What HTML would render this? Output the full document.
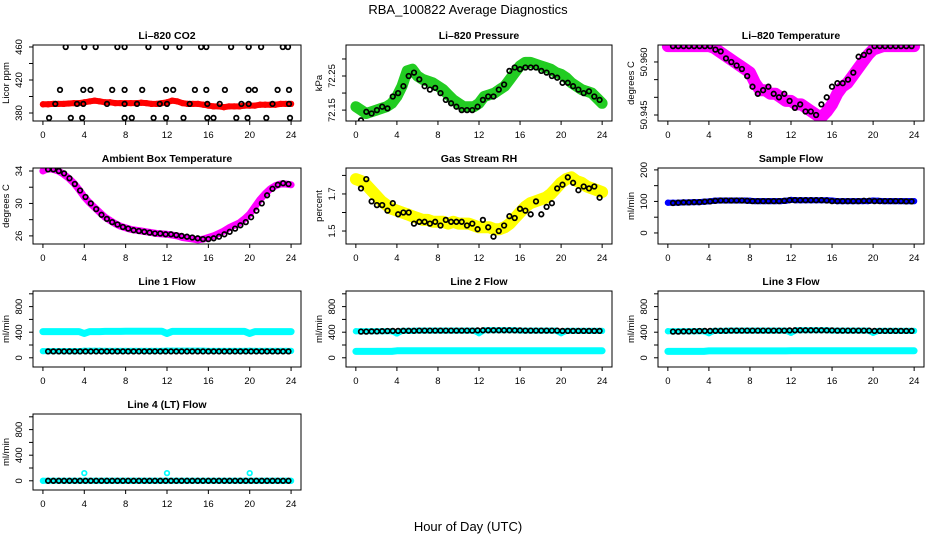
<!DOCTYPE html>
<html><head><meta charset="utf-8"><style>
html,body{margin:0;padding:0;background:#fff;}
svg{display:block;font-family:"Liberation Sans",Arial,sans-serif;}
</style></head><body>
<svg id="chart" width="936" height="540" viewBox="0 0 936 540">
<text x="468" y="14" text-anchor="middle" font-size="13">RBA_100822  Average Diagnostics</text>
<text x="468" y="531" text-anchor="middle" font-size="13">Hour of Day (UTC)</text>
</svg>
<script>
// ---- data arrays (hours spread evenly over 0..24 for colored; 0.5..23.75 for black) ----
const xTicks = [0,4,8,12,16,20,24];
const co2Red = [390.5,390.5,391,391,391,391.5,392,392,393,394,395,394,393,393,392,392,392,392,392,392.5,392,391,391,392,393,395,394,392,391,391,391,390,389,388,388,387,388,388,388,389,389,389,390,390,390,390,391,391,391];
const co2BlackHours = [2.2,4.0,5.1,7.2,7.9,10.2,11.9,13.2,15.3,15.8,18.2,19.9,21.1,23.2,23.7, 1.65,3.9,4.6,6.7,7.9,9.6,11.9,12.6,14.7,15.8,17.6,19.9,20.5,22.7,23.8, 1.2,3.3,3.9,6.2,7.9,9.1,11.3,12.0,14.2,15.9,17.1,19.2,19.9,22.2,23.8, 0.6,2.7,3.8,7.9,8.6,10.7,11.9,13.6,15.9,16.5,18.7,19.8,21.6,23.9];
const co2BlackVals = [460,460,460,460,460,460,460,460,460,460,460,460,460,460,460, 408,408,408,408,408,408,408,408,408,408,408,408,408,408,408, 391,391,391,391,391,391,391,391,391,391,391,391,391,391,391, 374,374,374,374,374,374,374,374,374,374,374,374,374,374];
const pressGreen = [72.16,72.15,72.14,72.145,72.15,72.155,72.16,72.17,72.19,72.22,72.265,72.27,72.25,72.24,72.235,72.23,72.22,72.21,72.195,72.18,72.17,72.16,72.16,72.16,72.17,72.19,72.195,72.20,72.21,72.22,72.24,72.26,72.28,72.29,72.29,72.285,72.28,72.275,72.27,72.26,72.255,72.245,72.23,72.22,72.21,72.205,72.20,72.185,72.17];
const pressBlack = [72.12,72.145,72.14,72.15,72.16,72.155,72.19,72.20,72.22,72.25,72.26,72.24,72.22,72.21,72.215,72.20,72.18,72.17,72.16,72.15,72.15,72.15,72.16,72.18,72.19,72.19,72.21,72.225,72.265,72.275,72.27,72.275,72.275,72.275,72.265,72.26,72.25,72.245,72.23,72.23,72.22,72.21,72.20,72.205,72.19,72.18];
const tempPink = [50.9645,50.9645,50.9645,50.9645,50.9645,50.9645,50.9645,50.9645,50.9645,50.964,50.963,50.962,50.961,50.960,50.959,50.958,50.957,50.954,50.952,50.952,50.951,50.951,50.950,50.949,50.949,50.948,50.948,50.947,50.946,50.945,50.9445,50.946,50.948,50.951,50.953,50.954,50.956,50.958,50.960,50.962,50.9635,50.964,50.9645,50.9645,50.9645,50.9645,50.9645,50.9645,50.9645];
const tempBlack = [50.9645,50.9645,50.9645,50.9645,50.9645,50.9645,50.9645,50.9645,50.9635,50.963,50.961,50.960,50.959,50.958,50.956,50.953,50.951,50.952,50.953,50.951,50.950,50.951,50.949,50.947,50.948,50.946,50.946,50.945,50.948,50.950,50.953,50.954,50.954,50.955,50.957,50.9615,50.962,50.963,50.9645,50.9645,50.9645,50.9645,50.9645,50.9645,50.9645,50.9645];
const ambPink = [34.0,34.3,34.2,34.0,33.6,33.1,32.5,31.7,30.8,30.1,29.5,28.9,28.3,27.9,27.5,27.2,27.0,26.8,26.7,26.6,26.5,26.4,26.3,26.25,26.2,26.1,26.0,25.8,25.7,25.6,25.5,25.6,25.8,26.0,26.3,26.6,27.0,27.3,27.6,28.1,28.7,29.6,30.5,31.2,31.8,32.2,32.4,32.4,32.3];
const ambBlack = [34.2,34.2,34.0,33.7,33.1,32.4,31.6,30.8,30.0,29.3,28.6,28.1,27.7,27.4,27.1,26.9,26.7,26.6,26.5,26.4,26.3,26.3,26.2,26.2,26.1,26.0,25.9,25.8,25.7,25.6,25.6,25.7,25.9,26.2,26.5,26.9,27.3,27.7,28.3,29.1,30.0,31.0,31.8,32.3,32.5,32.4];
const rhYellow = [1.78,1.77,1.75,1.72,1.69,1.66,1.64,1.62,1.61,1.60,1.59,1.58,1.57,1.56,1.56,1.55,1.55,1.55,1.54,1.55,1.54,1.54,1.54,1.53,1.52,1.52,1.52,1.51,1.51,1.52,1.54,1.57,1.60,1.63,1.65,1.66,1.67,1.68,1.70,1.73,1.76,1.78,1.79,1.77,1.76,1.74,1.73,1.72,1.71];
const rhBlack = [1.73,1.78,1.66,1.64,1.64,1.61,1.65,1.59,1.60,1.60,1.54,1.55,1.55,1.54,1.55,1.53,1.56,1.55,1.55,1.55,1.53,1.54,1.51,1.56,1.52,1.47,1.50,1.53,1.58,1.57,1.62,1.61,1.59,1.66,1.59,1.63,1.65,1.73,1.75,1.79,1.76,1.72,1.74,1.73,1.74,1.68];
const sampleBlue = [96,96,96,97,97,98,98,99,100,102,103,103,103,103,103,103,102,101,101,101,101,101,101,102,105,104,104,104,104,104,104,104,103,101,101,101,101,101,101,101,103,102,101,101,101,101,101,101,101];
const sampleBlack = [95,96,97,97,98,98,99,100,102,103,103,103,103,103,102,101,101,101,101,101,101,102,104,104,104,104,104,104,104,103,101,101,101,101,101,101,102,102,101,101,101,101,101,101,100,100];
const line1CyanHigh = [410,410,410,410,410,410,410,410,380,410,410,410,412,412,412,412,415,415,415,415,415,415,415,415,380,412,412,412,412,412,412,412,412,412,412,412,412,412,412,412,380,410,410,410,410,410,410,410,410];
const line1CyanLow = [105,105,105,105,105,105,105,105,110,110,110,110,108,108,108,108,108,108,108,108,108,108,108,108,112,112,112,112,112,112,112,112,108,108,108,108,108,108,108,108,110,108,108,108,108,108,108,108,108];
const line1Black = [100,100,100,100,100,100,100,100,100,100,100,100,100,100,100,100,100,100,100,100,100,100,100,100,100,100,100,100,100,100,100,100,100,100,100,100,100,100,100,100,100,100,100,100,100,100];
const line2CyanHigh = [415,415,415,415,415,415,415,415,380,420,420,420,425,425,425,425,425,425,425,425,425,425,425,425,385,430,430,430,430,430,430,430,425,425,425,425,425,425,425,425,385,420,420,420,420,420,420,420,420];
const line2CyanLow = [100,100,100,100,100,100,100,100,110,110,110,110,110,110,110,110,110,110,110,110,110,110,110,110,110,110,110,110,110,110,110,110,110,110,110,110,110,110,110,110,110,110,110,110,110,110,110,110,110];
const line2Black = [410,410,412,412,415,418,420,420,422,422,422,425,425,425,425,425,425,425,425,425,425,425,428,430,430,430,430,430,430,428,428,425,425,425,425,425,425,425,420,420,420,420,420,420,420,420];
const line3CyanHigh = [415,415,415,415,415,415,415,415,385,420,420,420,425,425,425,425,425,425,425,425,425,425,425,425,390,430,430,430,430,430,430,430,425,425,425,425,425,425,425,425,390,420,420,420,420,420,420,420,420];
const line3CyanLow = [100,100,100,100,100,100,100,100,108,108,108,108,108,108,108,108,108,108,108,108,108,108,108,108,110,110,110,110,110,110,110,110,110,110,110,110,110,110,110,110,110,110,110,110,110,110,110,110,110];
const line3Black = [410,410,412,412,415,418,420,420,422,422,422,425,425,425,425,425,425,425,425,425,425,425,428,430,430,430,430,430,430,428,428,425,425,425,425,425,425,425,420,420,420,420,420,420,420,420];
const line4Cyan = [0,0,0,0,0,0,0,0,0,0,0,0,0,0,0,0,0,0,0,0,0,0,0,0,0,0,0,0,0,0,0,0,0,0,0,0,0,0,0,0,0,0,0,0,0,0,0,0,0];
const line4CyanOutHours = [4,12,20];
const line4CyanOutVals = [120,120,120];
const line4Black = [0,0,0,0,0,0,0,0,0,0,0,0,0,0,0,0,0,0,0,0,0,0,0,0,0,0,0,0,0,0,0,0,0,0,0,0,0,0,0,0,0,0,0,0,0,0];

const NS = "http://www.w3.org/2000/svg";
const svg = document.getElementById('chart');
const colLeft = [33, 346, 658], colRight = [301, 612, 924];
const rowTop = [45, 168, 291, 414], rowH = 76;
function mk(tag, attrs, parent){ const e=document.createElementNS(NS,tag); for(const k in attrs) e.setAttribute(k,attrs[k]); (parent||svg).appendChild(e); return e; }
function evenHours(n, a, b){ const h=[]; for(let i=0;i<n;i++) h.push(a+(b-a)*i/(n-1)); return h; }

const panels = [
 {name:'co2', title:'Li\u2013820 CO2', ylab:'Licor ppm', col:0,row:0, ylim:[370.3,462.4], ticks:[380,400,420,440,460], labels:['380','','420','','460'],
  series:[{v:co2Red,c:'#ff0000',band:6,x0:0,x1:24},{v:co2BlackVals,h:co2BlackHours,c:'#000',band:0}]},
 {name:'pressure', title:'Li\u2013820 Pressure', ylab:'kPa', col:1,row:0, ylim:[72.118,72.341], ticks:[72.15,72.20,72.25,72.30], labels:['72.15','','72.25',''],
  series:[{v:pressGreen,c:'#22cc22',band:11,x0:0,x1:24},{v:pressBlack,c:'#000',band:0,x0:0.5,x1:23.75}]},
 {name:'temperature', title:'Li\u2013820 Temperature', ylab:'degrees C', col:2,row:0, ylim:[50.9433,50.9648], ticks:[50.945,50.950,50.955,50.960], labels:['50.945','','','50.960'],
  series:[{v:tempPink,c:'#ff00ff',band:12,x0:0,x1:24},{v:tempBlack,c:'#000',band:0,x0:0.5,x1:23.75}]},
 {name:'ambient-temp', title:'Ambient Box Temperature', ylab:'degrees C', col:0,row:1, ylim:[25.0,34.37], ticks:[26,28,30,32,34], labels:['26','','30','','34'],
  series:[{v:ambPink,c:'#ff00ff',band:7,x0:0,x1:24},{v:ambBlack,c:'#000',band:0,x0:0.5,x1:23.75}]},
 {name:'gas-rh', title:'Gas Stream RH', ylab:'percent', col:1,row:1, ylim:[1.43,1.84], ticks:[1.5,1.6,1.7,1.8], labels:['1.5','','1.7',''],
  series:[{v:rhYellow,c:'#ffff00',band:12,x0:0,x1:24},{v:rhBlack,c:'#000',band:0,x0:0.5,x1:23.75}]},
 {name:'sample-flow', title:'Sample Flow', ylab:'ml/min', col:2,row:1, ylim:[-35,206], ticks:[0,50,100,150,200], labels:['0','','100','','200'],
  series:[{v:sampleBlue,c:'#0000ff',band:6,x0:0,x1:24},{v:sampleBlack,c:'#000',band:0,x0:0.5,x1:23.75}]},
 {name:'line1-flow', title:'Line 1 Flow', ylab:'ml/min', col:0,row:2, ylim:[-144,1044], ticks:[0,200,400,600,800,1000], labels:['0','','400','','800',''],
  series:[{v:line1CyanHigh,c:'#00ffff',band:7,x0:0,x1:24},{v:line1CyanLow,c:'#00ffff',band:6,x0:0,x1:24},{v:line1Black,c:'#000',band:0,x0:0.5,x1:23.75}]},
 {name:'line2-flow', title:'Line 2 Flow', ylab:'ml/min', col:1,row:2, ylim:[-144,1044], ticks:[0,200,400,600,800,1000], labels:['0','','400','','800',''],
  series:[{v:line2CyanHigh,c:'#00ffff',band:6,x0:0,x1:24},{v:line2CyanLow,c:'#00ffff',band:7,x0:0,x1:24},{v:line2Black,c:'#000',band:0,x0:0.5,x1:23.75}]},
 {name:'line3-flow', title:'Line 3 Flow', ylab:'ml/min', col:2,row:2, ylim:[-144,1044], ticks:[0,200,400,600,800,1000], labels:['0','','400','','800',''],
  series:[{v:line3CyanHigh,c:'#00ffff',band:6,x0:0,x1:24},{v:line3CyanLow,c:'#00ffff',band:7,x0:0,x1:24},{v:line3Black,c:'#000',band:0,x0:0.5,x1:23.75}]},
 {name:'line4-flow', title:'Line 4 (LT) Flow', ylab:'ml/min', col:0,row:3, ylim:[-144,1044], ticks:[0,200,400,600,800,1000], labels:['0','','400','','800',''],
  series:[{v:line4Cyan,c:'#00ffff',band:6,x0:0,x1:24},{v:line4CyanOutVals,h:line4CyanOutHours,c:'#00ffff',band:0},{v:line4Black,c:'#000',band:0,x0:0.5,x1:23.75}]}
];

panels.forEach(p=>{
  const L=colLeft[p.col], R=colRight[p.col], T=rowTop[p.row], B=T+rowH;
  const xs = h => L + (h+0.96)/25.92*(R-L);
  const ys = v => B - (v-p.ylim[0])/(p.ylim[1]-p.ylim[0])*rowH;
  const g = mk('g',{});
  
  
  const t = mk('text',{x:(L+R)/2,y:T-6,'text-anchor':'middle','font-size':'10.5','font-weight':'bold'},g);
  t.textContent=p.title;
  
  
  const clip = 'clip-'+p.name;
  const cp = mk('clipPath',{id:clip},g); mk('rect',{x:L,y:T,width:R-L,height:rowH},cp);
  const sg = mk('g',{'clip-path':'url(#'+clip+')'},g);
  p.series.forEach((s,si)=>{
    const hrs = s.h || evenHours(s.v.length, s.x0, s.x1);
    if(s.band>0){
      const pts = s.v.map((v,i)=>xs(hrs[i]).toFixed(1)+','+ys(v).toFixed(1)).join(' ');
      const pl = mk('polyline',{points:pts,fill:'none',stroke:s.c,'stroke-width':s.band,'stroke-linejoin':'round','stroke-linecap':'round'},sg);
      
      
    }
    s.v.forEach((v,i)=>{
      const c = mk('circle',{cx:xs(hrs[i]).toFixed(1),cy:ys(v).toFixed(1),r:2.3,fill:'none',stroke:s.c,'stroke-width':1.7},sg);
      
      
    });
  });
  const box = mk('rect',{x:L,y:T,width:R-L,height:rowH,fill:'none',stroke:'#000','stroke-width':1},g);
  
  
  mk('line',{x1:xs(0),x2:xs(24),y1:B,y2:B,stroke:'#000'},g);
  xTicks.forEach(h=>{
    mk('line',{x1:xs(h),x2:xs(h),y1:B,y2:B+4,stroke:'#000'},g);
    const tl = mk('text',{x:xs(h),y:B+17,'text-anchor':'middle','font-size':'9.5'},g);
    tl.textContent=h;
    
    
  });
  mk('line',{x1:L,x2:L,y1:ys(p.ticks[0]),y2:ys(p.ticks[p.ticks.length-1]),stroke:'#000'},g);
  p.ticks.forEach((v,i)=>{
    const y=ys(v);
    mk('line',{x1:L-4,x2:L,y1:y,y2:y,stroke:'#000'},g);
    if(p.labels[i]){
      const yl = mk('text',{x:L-11,y:y,'text-anchor':'middle','font-size':'9.5',transform:'rotate(-90 '+(L-11)+' '+y+')'},g);
      yl.textContent=p.labels[i];
      
      
    }
  });
  const ylab = mk('text',{x:L-24,y:(T+B)/2,'text-anchor':'middle','font-size':'9.5',transform:'rotate(-90 '+(L-24)+' '+((T+B)/2)+')'},g);
  ylab.textContent=p.ylab;
  
  
});
</script>
</body></html>
